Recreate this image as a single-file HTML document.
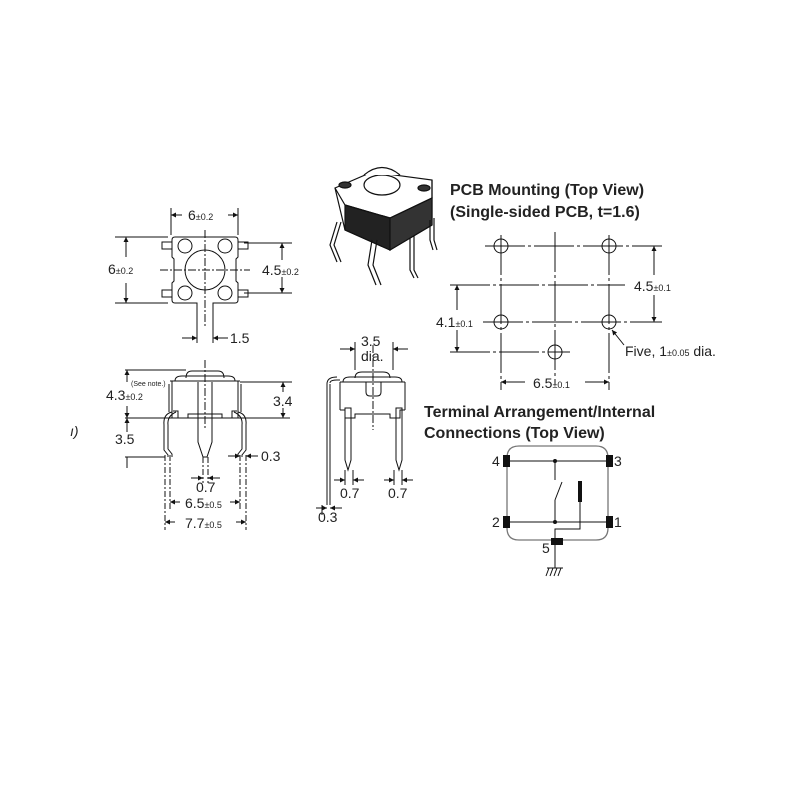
<!DOCTYPE html>
<html><head><meta charset="utf-8"><style>
body{margin:0;background:#fff}
svg{display:block}
text{font-family:"Liberation Sans",sans-serif;fill:#222}
</style></head><body>
<svg width="800" height="800" viewBox="0 0 800 800" xmlns="http://www.w3.org/2000/svg">
<defs>
<marker id="a" viewBox="0 0 10 10" refX="10" refY="5" markerUnits="userSpaceOnUse" markerWidth="9" markerHeight="5" orient="auto"><path d="M0,0 L10,5 L0,10z" fill="#111"/></marker>
</defs>
<g stroke="#111" fill="none" stroke-width="1">
<!-- Top view -->
<path d="M197,318 L197,303 L175,303 Q172,303 172,300 L172,283 L174,281 L174,259 L172,257 L172,240 Q172,237 175,237 L235,237 Q238,237 238,240 L238,257 L236,259 L236,281 L238,283 L238,300 Q238,303 235,303 L213,303 L213,318"/>
<circle cx="205" cy="270" r="20"/>
<circle cx="185" cy="246" r="7"/><circle cx="225" cy="246" r="7"/>
<circle cx="185" cy="293" r="7"/><circle cx="225" cy="293" r="7"/>
<rect x="162" y="242" width="10" height="7"/><rect x="238" y="242" width="10" height="7"/>
<rect x="162" y="290" width="10" height="7"/><rect x="238" y="290" width="10" height="7"/>
<path d="M205,230 V328 M160,270 H250" stroke-dasharray="8,2,2,2"/>
<path d="M171,208 V235 M238,208 V235 M115,237 H168 M115,303 H168 M244,243 H292 M244,293 H292 M197,318 V343 M213,318 V343"/>
<path d="M182,215 H171" marker-end="url(#a)"/><path d="M228,215 H238" marker-end="url(#a)"/>
<path d="M126,257 V237" marker-end="url(#a)"/><path d="M126,283 V303" marker-end="url(#a)"/>
<path d="M282,260 V243" marker-end="url(#a)"/><path d="M282,277 V293" marker-end="url(#a)"/>
<path d="M182,338 H197" marker-end="url(#a)"/><path d="M228,338 H213" marker-end="url(#a)"/>
<!-- front view -->
<path d="M186,378 Q186,371 192,371 H218 Q224,371 224,378"/>
<path d="M175,381 Q175,376 182,376 H228 Q235,376 235,381"/>
<path d="M170,381 H240 M172,381 V418 H238 V381 M169,384 V412 M241,384 V412"/>
<path d="M173,411 H178 V418 M237,411 H232 V418 M188,418 V414 H222 V418"/>
<path d="M198,382 V442 L203,457 L207,457 L212,442 V382"/>
<path d="M172,412 Q163,414 164,425 L164,450 L168,455 V457 M176,412 Q167,416 168,425 L168,449 L172,454 V457"/>
<path d="M238,412 Q247,414 246,425 L246,450 L242,455 V457 M234,412 Q243,416 242,425 L242,449 L238,454 V457"/>
<path d="M125,370 H186 M125,418 H290 M240,382 H292 M125,457 H165"/>
<path d="M205,360 V430" stroke-dasharray="8,2,2,2"/>
<path d="M165,455 V530 M170,455 V510 M240,455 V510 M246,455 V530 M203,457 V483 M208,457 V483" stroke-dasharray="6,2,2,2"/>
<path d="M127,382 V370" marker-end="url(#a)"/><path d="M127,406 V418" marker-end="url(#a)"/>
<path d="M127,432 V418" marker-end="url(#a)"/><path d="M127,468 V457"/>
<path d="M283,392 V382" marker-end="url(#a)"/><path d="M283,408 V418" marker-end="url(#a)"/>
<path d="M191,478 H203" marker-end="url(#a)"/><path d="M220,478 H208" marker-end="url(#a)"/>
<path d="M180,502 H170" marker-end="url(#a)"/><path d="M230,502 H240" marker-end="url(#a)"/>
<path d="M175,522 H165" marker-end="url(#a)"/><path d="M236,522 H246" marker-end="url(#a)"/>
<path d="M228,456 H240" marker-end="url(#a)"/><path d="M258,456 H246" marker-end="url(#a)"/>
<!-- side view -->
<path d="M355,378 Q355,372 362,372 H383 Q390,372 390,378"/>
<path d="M343,382 Q343,377 350,377 H395 Q402,377 402,382"/>
<path d="M340,382 H405 M330,383 Q330,380 337,380 H340 M327,384 Q327,377 337,377 M327,384 V505 M330,384 V505"/>
<path d="M340,382 V410 M405,382 V410 M366,382 V392 Q366,396 370,396 H377 Q381,396 381,392 V382"/>
<path d="M340,410 H345 V418 H355 V414 H390 V418 H400 V410 H405"/>
<path d="M345,408 V460 L348,470 L351,460 V408 Z M396,408 V460 L399,470 L402,460 V408 Z"/>
<path d="M373,345 V430" stroke-dasharray="8,2,2,2"/>
<path d="M355,342 V370 M393,342 V370 M345,470 V485 M353,470 V485 M394,470 V485 M402,470 V485 M322,505 V515"/>
<path d="M334,480 H345" marker-end="url(#a)"/><path d="M364,480 H353" marker-end="url(#a)"/>
<path d="M384,480 H394" marker-end="url(#a)"/><path d="M413,480 H402" marker-end="url(#a)"/>
<path d="M340,349 H355" marker-end="url(#a)"/><path d="M408,349 H393" marker-end="url(#a)"/>
<path d="M316,508 H327" marker-end="url(#a)"/><path d="M342,508 H330" marker-end="url(#a)"/>
<!-- PCB mounting -->
<path d="M485,246 H662 M450,285 H625 M483,322 H662 M450,352 H570 M501,235 V390 M555,232 V385 M609,235 V390" stroke-dasharray="40,3,3,3"/>
<circle cx="501" cy="246" r="7"/><circle cx="609" cy="246" r="7"/>
<circle cx="501" cy="322" r="7"/><circle cx="609" cy="322" r="7"/>
<circle cx="555" cy="352" r="7"/>
<path d="M654,275 V246" marker-end="url(#a)"/><path d="M654,295 V322" marker-end="url(#a)"/>
<path d="M457,310 V285" marker-end="url(#a)"/><path d="M457,330 V352" marker-end="url(#a)"/>
<path d="M525,382 H501" marker-end="url(#a)"/><path d="M585,382 H609" marker-end="url(#a)"/>
<path d="M624,345 L612,330" marker-end="url(#a)"/>
<!-- circuit -->
<path d="M519,446 H596 Q608,446 608,458 V528 Q608,540 596,540 H519 Q507,540 507,528 V458 Q507,446 519,446 Z" stroke="#777" stroke-width="1.3"/>
<path d="M505,461 H610 M505,522 H610 M555,461 V480 M555,500 L562,482 M555,500 V522 M580,502 V529 H555 V568"/>
<path d="M547,568 H563 M549,568 L546,576 M553,568 L550,576 M557,568 L554,576 M561,568 L558,576"/>
</g>
<g fill="#111">
<rect x="503" y="455" width="7" height="12"/><rect x="606" y="455" width="7" height="12"/>
<rect x="503" y="516" width="7" height="12"/><rect x="606" y="516" width="7" height="12"/>
<rect x="551" y="538" width="12" height="7"/>
<rect x="578" y="481" width="4" height="21"/>
<circle cx="555" cy="461" r="2"/><circle cx="555" cy="522" r="2"/>
</g>
<g font-size="14">
<text x="188" y="220">6<tspan font-size="9">±0.2</tspan></text>
<text x="108" y="274">6<tspan font-size="9">±0.2</tspan></text>
<text x="262" y="275">4.5<tspan font-size="9">±0.2</tspan></text>
<text x="230" y="343">1.5</text>
<text x="131" y="386" font-size="7">(See note.)</text>
<text x="106" y="400">4.3<tspan font-size="9">±0.2</tspan></text>
<text x="273" y="406">3.4</text>
<text x="115" y="444">3.5</text>
<text x="261" y="461">0.3</text>
<text x="196" y="492">0.7</text>
<text x="185" y="508">6.5<tspan font-size="9">±0.5</tspan></text>
<text x="185" y="528">7.7<tspan font-size="9">±0.5</tspan></text>
<text x="361" y="346">3.5</text>
<text x="361" y="361">dia.</text>
<text x="340" y="498">0.7</text>
<text x="388" y="498">0.7</text>
<text x="318" y="522">0.3</text>
<text x="70" y="436" font-style="italic">ı)</text>
<text x="634" y="291">4.5<tspan font-size="9">±0.1</tspan></text>
<text x="436" y="327">4.1<tspan font-size="9">±0.1</tspan></text>
<text x="533" y="388">6.5<tspan font-size="9">±0.1</tspan></text>
<text x="625" y="356">Five, 1<tspan font-size="9">±0.05</tspan> dia.</text>
<text x="492" y="466">4</text><text x="614" y="466">3</text>
<text x="492" y="527">2</text><text x="614" y="527">1</text>
<text x="542" y="553">5</text>
</g>
<g font-size="16" font-weight="bold">
<text x="450" y="195">PCB Mounting (Top View)</text>
<text x="450" y="217">(Single-sided PCB, t=1.6)</text>
<text x="424" y="417">Terminal Arrangement/Internal</text>
<text x="424" y="438">Connections (Top View)</text>
</g>
<!-- 3D view approximation -->
<g stroke="#111" stroke-width="1.2">
<path d="M335,188 L372,172 L432,180 L432,225 L390,250 L345,230 Z" fill="#fff"/>
<path d="M345,205 L390,218 L390,250 L345,230 Z" fill="#222"/>
<path d="M390,218 L432,198 L432,225 L390,250 Z" fill="#333"/>
<path d="M335,188 L345,205 L390,218 L432,198 L432,180" fill="none"/>
<ellipse cx="382" cy="185" rx="18" ry="10" fill="#fff"/>
<path d="M364,175 Q382,160 400,175" fill="#fff"/>
<ellipse cx="345" cy="185" rx="6" ry="3" fill="#333"/>
<ellipse cx="424" cy="188" rx="6" ry="3" fill="#333"/>
<path d="M337,222 L330,245 L337,262 M341,222 L334,245 L341,262 M372,240 L368,265 L376,285 M377,240 L373,265 L381,285 M410,238 L410,270 L414,278 M414,236 L414,270 L418,278 M430,220 L430,240 L433,250 M434,218 L434,240 L437,250" fill="none"/>
</g>
</svg>
</body></html>
